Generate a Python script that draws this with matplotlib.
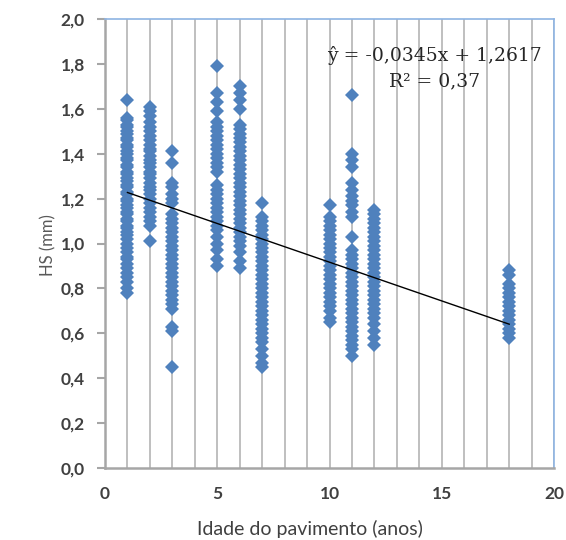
import matplotlib
matplotlib.use("Agg")
import matplotlib.pyplot as plt
from matplotlib.ticker import FuncFormatter, MultipleLocator

# idade do pavimento (anos) -> valores de HS (mm)
hs_1 = [1.64, 1.56, 1.55, 1.53, 1.52, 1.50, 1.49, 1.47, 1.46, 1.44, 1.43, 1.41, 1.40,
        1.38, 1.37, 1.35, 1.34, 1.32, 1.31, 1.29, 1.28, 1.26, 1.25, 1.23, 1.22, 1.20,
        1.19, 1.17, 1.16, 1.14, 1.13, 1.11, 1.10, 1.08, 1.07, 1.05, 1.04, 1.02, 1.00,
        0.98, 0.96, 0.94, 0.93, 0.91, 0.89, 0.87, 0.85, 0.83, 0.80, 0.78]
hs_2 = [1.61, 1.59, 1.57, 1.54, 1.52, 1.50, 1.48, 1.46, 1.44, 1.42, 1.41, 1.39, 1.37,
        1.36, 1.34, 1.32, 1.31, 1.29, 1.27, 1.25, 1.24, 1.22, 1.20, 1.18, 1.16, 1.14,
        1.12, 1.10, 1.08, 1.01]
hs_3 = [1.41, 1.36, 1.27, 1.25, 1.22, 1.20, 1.18, 1.13, 1.11, 1.09, 1.07, 1.05, 1.03,
        1.01, 0.99, 0.97, 0.95, 0.93, 0.91, 0.89, 0.87, 0.85, 0.83, 0.81, 0.79, 0.77,
        0.75, 0.73, 0.71, 0.63, 0.61, 0.45]
hs_5 = [1.79, 1.67, 1.63, 1.59, 1.54, 1.52, 1.50, 1.48, 1.46, 1.44, 1.42, 1.40, 1.38,
        1.36, 1.34, 1.32, 1.26, 1.24, 1.22, 1.20, 1.18, 1.16, 1.14, 1.12, 1.10, 1.08,
        1.06, 1.03, 1.00, 0.97, 0.93, 0.90]
hs_6 = [1.70, 1.67, 1.64, 1.60, 1.53, 1.51, 1.49, 1.47, 1.45, 1.43, 1.41, 1.39, 1.37,
        1.35, 1.33, 1.31, 1.29, 1.27, 1.25, 1.23, 1.21, 1.19, 1.17, 1.15, 1.13, 1.11,
        1.09, 1.07, 1.05, 1.03, 1.01, 0.99, 0.96, 0.92, 0.89]
hs_7 = [1.18, 1.12, 1.10, 1.08, 1.06, 1.04, 1.02, 1.00, 0.98, 0.96, 0.94, 0.92, 0.90,
        0.88, 0.86, 0.84, 0.82, 0.80, 0.78, 0.76, 0.74, 0.72, 0.70, 0.68, 0.66, 0.64,
        0.62, 0.60, 0.58, 0.56, 0.53, 0.50, 0.47, 0.45]
hs_10 = [1.17, 1.12, 1.10, 1.08, 1.06, 1.04, 1.02, 1.00, 0.98, 0.96, 0.94, 0.92, 0.90,
         0.88, 0.86, 0.84, 0.82, 0.80, 0.78, 0.76, 0.74, 0.72, 0.70, 0.67, 0.65]
hs_11 = [1.66, 1.40, 1.37, 1.34, 1.27, 1.24, 1.21, 1.19, 1.17, 1.14, 1.12, 1.03, 0.97,
         0.95, 0.93, 0.91, 0.89, 0.87, 0.85, 0.83, 0.81, 0.79, 0.77, 0.75, 0.73, 0.71,
         0.69, 0.67, 0.65, 0.63, 0.61, 0.59, 0.57, 0.55, 0.53, 0.50]
hs_12 = [1.15, 1.13, 1.11, 1.09, 1.07, 1.05, 1.03, 1.01, 0.99, 0.97, 0.95, 0.93, 0.91,
         0.89, 0.87, 0.85, 0.83, 0.81, 0.79, 0.77, 0.75, 0.73, 0.71, 0.69, 0.67, 0.64,
         0.61, 0.58, 0.55]
hs_18 = [0.88, 0.86, 0.82, 0.80, 0.78, 0.76, 0.74, 0.72, 0.70, 0.68, 0.66, 0.64, 0.62,
         0.60, 0.58]

idades = [1, 2, 3, 5, 6, 7, 10, 11, 12, 18]
valores = [hs_1, hs_2, hs_3, hs_5, hs_6, hs_7, hs_10, hs_11, hs_12, hs_18]

# linha de tendencia (regressao linear)
slope = -0.0345
intercept = 1.2617
trend_x = [1, 18]

fig = plt.figure(figsize=(5.66, 5.40), dpi=100)
ax = fig.add_axes([0.1855, 0.1333, 0.7935, 0.8315])

for idade, hs in zip(idades, valores):
    ax.plot([idade] * len(hs), hs, linestyle="none", marker="D", markersize=7.5,
            color="#4F81BD", markeredgewidth=0, zorder=3)

ax.plot(trend_x, [slope * x + intercept for x in trend_x], color="black",
        linewidth=1.0, zorder=4)

ax.set_xlim(0, 20)
ax.set_ylim(0, 2.0)
ax.xaxis.set_major_locator(MultipleLocator(5))
ax.xaxis.set_minor_locator(MultipleLocator(1))
ax.yaxis.set_major_locator(MultipleLocator(0.2))
ax.grid(True, axis="x", which="both", color="#BFBFBF", linewidth=1.4, zorder=0)
ax.set_axisbelow(True)

ax.yaxis.set_major_formatter(FuncFormatter(lambda v, p: f"{v:.1f}".replace(".", ",")))

for lab in ax.get_xticklabels() + ax.get_yticklabels():
    lab.set_fontfamily("Lato")
    lab.set_fontweight("bold")
    lab.set_fontsize(12.5)
    lab.set_color("#404040")

ax.tick_params(axis="y", direction="out", length=6, width=1.5, color="#A6A6A6", pad=8.5)
ax.tick_params(axis="x", which="both", length=0, pad=13)

for side in ("left", "bottom"):
    ax.spines[side].set_color("#A6A6A6")
    ax.spines[side].set_linewidth(1.8)
for side in ("top", "right"):
    ax.spines[side].set_color("#8EB4E3")
    ax.spines[side].set_linewidth(1.2)

ax.set_xlabel("Idade do pavimento (anos)", fontfamily="Lato", fontsize=14,
              color="#404040", va="center")
ax.xaxis.set_label_coords(0.457, -0.136)
ax.set_ylabel("HS (mm)", fontfamily="Lato", fontsize=12, color="#595959", va="center")
ax.yaxis.set_label_coords(-0.127, 0.497)

ax.text(14.69, 1.836, "ŷ = -0,0345x + 1,2617", ha="center", va="center",
        fontfamily="DejaVu Serif", fontsize=13.5, color="#262626")
ax.text(14.69, 1.724, "R² = 0,37", ha="center", va="center",
        fontfamily="DejaVu Serif", fontsize=13.5, color="#262626")

fig.savefig("out.png", dpi=100)
